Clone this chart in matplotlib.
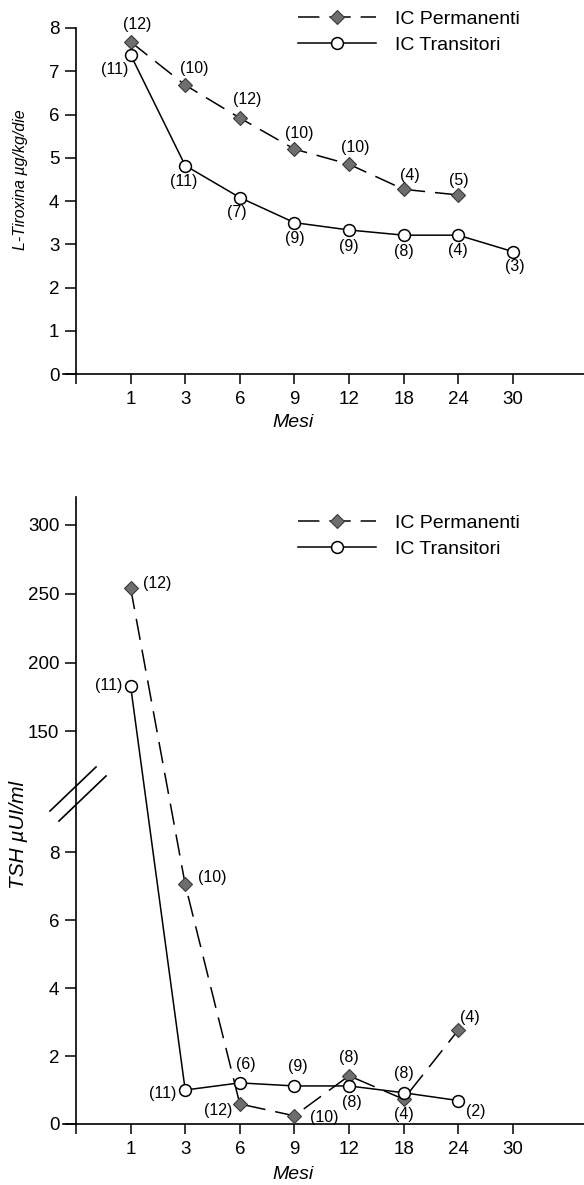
"""Two stacked line charts: L-Tiroxina dose and TSH over months (IC permanenti vs transitori)."""
import numpy as np
import matplotlib
matplotlib.use("Agg")
import matplotlib.pyplot as plt
from matplotlib.scale import FuncScale

plt.rcParams["font.family"] = ["Liberation Sans", "DejaVu Sans"]

# ---- data ----
MESI = ["1", "3", "6", "9", "12", "18", "24", "30"]

LT4_PERM = [7.68, 6.68, 5.92, 5.20, 4.85, 4.27, 4.14]
LT4_PERM_N = ["(12)", "(10)", "(12)", "(10)", "(10)", "(4)", "(5)"]
LT4_TRANS = [7.38, 4.82, 4.08, 3.50, 3.33, 3.21, 3.21, 2.83]
LT4_TRANS_N = ["(11)", "(11)", "(7)", "(9)", "(9)", "(8)", "(4)", "(3)"]

TSH_PERM = [254, 7.05, 0.59, 0.24, 1.42, 0.73, 2.76]
TSH_PERM_N = ["(12)", "(10)", "(12)", "(10)", "(8)", "(4)", "(4)"]
TSH_TRANS = [183, 1.0, 1.21, 1.12, 1.12, 0.92, 0.69]
TSH_TRANS_N = ["(11)", "(11)", "(6)", "(9)", "(8)", "(8)", "(2)"]

# label offsets in pixels (dx, dy up)
LT4_PERM_OFF = [(7, 17), (9, 17), (7, 18), (5, 16), (6, 17), (6, 14), (1, 14)]
LT4_TRANS_OFF = [(-16, -15), (-2, -16), (-3, -15), (0, -16), (0, -17), (0, -16), (0, -15), (2, -15)]
TSH_PERM_OFF = [(27, 5), (27, 7), (-22, -7), (30, -2), (0, 18), (0, -15), (12, 13)]
TSH_TRANS_OFF = [(-22, 0), (-23, -3), (6, 18), (3, 19), (3, -17), (0, 19), (18, -11)]

W, H = 584, 1185
fig = plt.figure(figsize=(W / 100, H / 100), dpi=100)

PERM_STYLE = dict(color="black", lw=1.1, linestyle=(0, (14, 6.5)), marker="D",
                  markersize=7, markerfacecolor="#6e6e6e", markeredgecolor="#3a3a3a",
                  markeredgewidth=0.8)
TRANS_STYLE = dict(color="black", lw=1.1, linestyle="-", marker="o", markersize=8.5,
                   markerfacecolor="white", markeredgecolor="black", markeredgewidth=1.1)


def setup_axes(ax):
    ax.set_xlim(-13 / 54.6, (W - 76) / 54.6)
    ax.spines["top"].set_visible(False)
    ax.spines["right"].set_visible(False)
    ax.spines["left"].set_position(("data", 0))
    for s in ("left", "bottom"):
        ax.spines[s].set_linewidth(1.2)
    ax.set_xticks(range(0, len(MESI) + 1))
    ax.set_xticklabels([""] + MESI)
    ax.tick_params(axis="x", direction="out", length=7.5, width=1.1, pad=5, labelsize=13.5)
    ax.tick_params(axis="y", direction="out", length=8, width=1.1, pad=4, labelsize=13.5)
    ax.patch.set_visible(False)


def annotate(ax, xs, ys, labels, offs):
    for x, y, lab, (dx, dy) in zip(xs, ys, labels, offs):
        ax.annotate(lab, (x, y), xytext=(dx * 0.72, dy * 0.72), textcoords="offset points",
                    ha="center", va="center", fontsize=11.5, annotation_clip=False)


def legend(ax, top_px):
    ax.legend(loc="upper left", bbox_to_anchor=(298 / W, 1 - top_px / H),
              bbox_transform=fig.transFigure, frameon=False, fontsize=14,
              handlelength=4.0, handletextpad=1.0, borderpad=0, borderaxespad=0,
              labelspacing=0.45)


# ---- top panel ----
ax1 = fig.add_axes([63 / W, (H - 374) / H, (W - 63) / W, 346 / H])
x_perm = np.arange(1, len(LT4_PERM) + 1)
x_trans = np.arange(1, len(LT4_TRANS) + 1)
ax1.plot(x_perm, LT4_PERM, label="IC Permanenti", clip_on=False, zorder=3, **PERM_STYLE)
ax1.plot(x_trans, LT4_TRANS, label="IC Transitori", clip_on=False, zorder=3, **TRANS_STYLE)
setup_axes(ax1)
ax1.set_ylim(0, 8)
ax1.set_yticks(range(0, 9))
annotate(ax1, x_perm, LT4_PERM, LT4_PERM_N, LT4_PERM_OFF)
annotate(ax1, x_trans, LT4_TRANS, LT4_TRANS_N, LT4_TRANS_OFF)
ax1.set_xlabel("Mesi", fontsize=14, style="italic", va="top")
ax1.xaxis.set_label_coords((293 - 63) / (W - 63), -40 / 346)
ax1.set_ylabel("L-Tiroxina µg/kg/die", fontsize=11.5, style="italic")
ax1.yaxis.set_label_coords((28 - 63) / (W - 63), (374 - 180) / 346)
legend(ax1, 10)

# ---- bottom panel, broken y axis ----
B, T, G = 9.8, 107.2, 0.5
K_LOW, K_UP = 34.0, 1.38


def fwd(y):
    y = np.asarray(y, dtype=float)
    return np.where(y <= B, y * K_LOW,
                    np.where(y >= T, B * K_LOW + G + (y - T) * K_UP,
                             B * K_LOW + (y - B) / (T - B) * G))


def inv(u):
    u = np.asarray(u, dtype=float)
    return np.where(u <= B * K_LOW, u / K_LOW,
                    np.where(u >= B * K_LOW + G, T + (u - B * K_LOW - G) / K_UP,
                             B + (u - B * K_LOW) / G * (T - B)))


ax2 = fig.add_axes([63 / W, (H - 1124) / H, (W - 63) / W, 627 / H])
ax2.set_yscale(FuncScale(ax2, (fwd, inv)))
x_perm = np.arange(1, len(TSH_PERM) + 1)
x_trans = np.arange(1, len(TSH_TRANS) + 1)
ax2.plot(x_perm, TSH_PERM, label="IC Permanenti", clip_on=False, zorder=3, **PERM_STYLE)
ax2.plot(x_trans, TSH_TRANS, label="IC Transitori", clip_on=False, zorder=3, **TRANS_STYLE)
setup_axes(ax2)
ax2.set_ylim(0, 320)
ax2.set_yticks([0, 2, 4, 6, 8, 150, 200, 250, 300])
ax2.set_yticklabels(["0", "2", "4", "6", "8", "150", "200", "250", "300"])
ax2.yaxis.set_minor_locator(plt.NullLocator())
annotate(ax2, x_perm, TSH_PERM, TSH_PERM_N, TSH_PERM_OFF)
annotate(ax2, x_trans, TSH_TRANS, TSH_TRANS_N, TSH_TRANS_OFF)
ax2.set_xlabel("Mesi", fontsize=14, style="italic", va="top")
ax2.xaxis.set_label_coords((293 - 63) / (W - 63), -42 / 627)
ax2.set_ylabel("TSH µUI/ml", fontsize=15, style="italic")
ax2.yaxis.set_label_coords((28 - 63) / (W - 63), (1124 - 835) / 627)
legend(ax2, 514)

# break marks on the y axis
for (x0, y0), (x1, y1) in [((50, 811), (96, 767)), ((59, 821), (106, 776))]:
    ax2.plot([(x0 - 63) / (W - 63), (x1 - 63) / (W - 63)],
             [(1124 - y0) / 627, (1124 - y1) / 627],
             transform=ax2.transAxes, color="black", lw=1.2, clip_on=False)

fig.savefig("out.png", dpi=100, facecolor="white")
